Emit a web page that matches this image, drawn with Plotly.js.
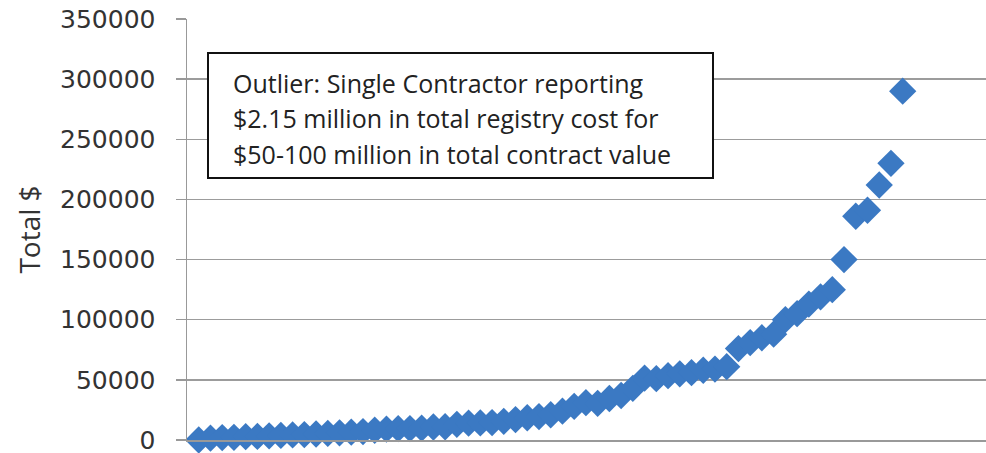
<!DOCTYPE html>
<html>
<head>
<meta charset="utf-8">
<script src="https://cdn.plot.ly/plotly-3.0.1.min.js"></script>
<style>
  html, body { margin: 0; padding: 0; background: #fff; }
  #chart { width: 986px; height: 453px; }
</style>
</head>
<body>
<div id="chart"></div>
<script>
// Contractors ranked by total registry cost (index along x)
const contractorRank = [];
for (let i = 1; i <= 61; i++) contractorRank.push(i);

// Total $ per contractor
const totalCost = [
  0, 1500, 2000, 2200, 2800, 3000, 3500, 3800, 4200, 4500,
  5000, 5500, 6000, 6500, 7000, 8100, 9000, 9400, 9500, 9800,
  10800, 11000, 13000, 14000, 14200, 14500, 15500, 17000, 18500, 19500,
  21000, 24000, 28000, 31000, 30500, 34500, 37000, 43000, 51500, 51000,
  53500, 55000, 56000, 58000, 59000, 61000, 76000, 81000, 85000, 88000,
  100000, 105000, 113000, 119000, 125000, 150000, 186000, 191000, 212000, 230000,
  290000
];

const yTickValues = [0, 50000, 100000, 150000, 200000, 250000, 300000, 350000];
const yTickLabels = ["0", "50000", "100000", "150000", "200000", "250000", "300000", "350000"];

const yAxisTitle = "Total $";
const noteLines = [
  "Outlier: Single Contractor reporting",
  "$2.15 million in total registry cost for",
  "$50-100 million in total contract value"
];

const labelFont = "'Open Sans', sans-serif";

const trace = {
  x: contractorRank,
  y: totalCost,
  type: "scatter",
  mode: "markers",
  cliponaxis: false,
  marker: { symbol: "diamond", size: 21, color: "#3b79c3", line: { width: 0 } },
  hoverinfo: "y"
};

const L = 187, R = 0, T = 19, B = 13;
const W = 986 - L - R, H = 453 - T - B;
const px = v => (v - L) / W;
const py = v => (453 - B - v) / H;

const noteY = [83, 118, 154];
const annotations = noteLines.map((t, k) => ({
  xref: "paper", yref: "paper",
  x: px(231), y: py(noteY[k]),
  xanchor: "left", yanchor: "middle",
  text: t, showarrow: false, align: "left",
  font: { family: labelFont, size: 25, color: "#222" }
}));

const layout = {
  width: 986, height: 453,
  margin: { l: L, r: R, t: T, b: B, pad: 0 },
  paper_bgcolor: "#fff", plot_bgcolor: "#fff",
  showlegend: false,
  xaxis: {
    range: [0, 68.1],
    showgrid: false, zeroline: false,
    showline: true, linecolor: "#999", linewidth: 1.5,
    showticklabels: false, ticks: ""
  },
  yaxis: {
    range: [0, 350000],
    tickvals: yTickValues, ticktext: yTickLabels,
    showgrid: true, gridcolor: "#9c9c9c", gridwidth: 1.5,
    zeroline: false,
    showline: true, linecolor: "#999", linewidth: 1.5,
    ticks: "outside", ticklen: 10, tickcolor: "#999", tickwidth: 1.5,
    ticklabelstandoff: 15,
    ticklabeloverflow: "allow",
    tickfont: { family: "'DejaVu Sans', sans-serif", size: 25, color: "#333" },
    automargin: false,
    title: { text: yAxisTitle, standoff: 11, font: { family: labelFont, size: 28, color: "#333" } }
  },
  shapes: [{
    type: "rect", xref: "paper", yref: "paper",
    x0: px(208), x1: px(713), y0: py(178), y1: py(53),
    line: { color: "#111", width: 2 }, fillcolor: "#fff", layer: "above"
  }],
  annotations: annotations
};

Plotly.newPlot("chart", [trace], layout, { displayModeBar: false, staticPlot: true });
</script>
</body>
</html>
